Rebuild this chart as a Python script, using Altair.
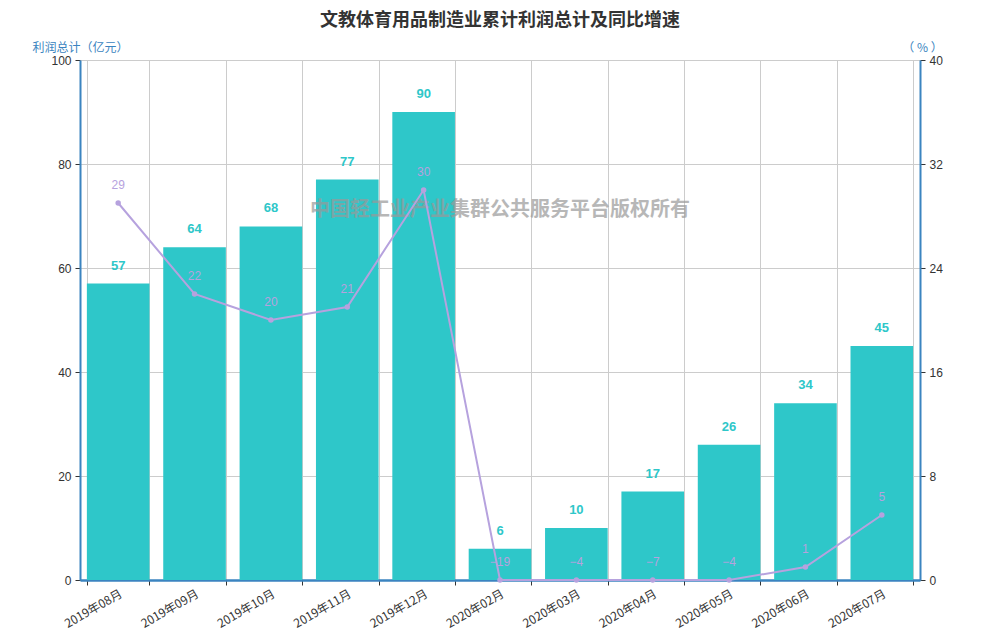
import altair as alt
import pandas as pd

months = ["2019年08月", "2019年09月", "2019年10月", "2019年11月", "2019年12月",
          "2020年02月", "2020年03月", "2020年04月", "2020年05月", "2020年06月", "2020年07月"]
profit = [57, 64, 68, 77, 90, 6, 10, 17, 26, 34, 45]
growth = [29, 22, 20, 21, 30, -19, -4, -7, -4, 1, 5]
left_ticks = [0, 20, 40, 60, 80, 100]
right_ticks = [0, 8, 16, 24, 32, 40]

title_text = "文教体育用品制造业累计利润总计及同比增速"
watermark = "中国轻工业产业集群公共服务平台版权所有"

df = pd.DataFrame({"month": months, "profit": profit, "growth": growth})

FONT = "Noto Sans CJK SC"
BLUE = "#3b84c0"
BAR = "#2ec7c9"
LINE = "#b6a2de"

x = alt.X("month:N", sort=months, title=None,
          scale=alt.Scale(paddingInner=0.18, paddingOuter=0.09),
          axis=alt.Axis(labelAngle=-30, tickBand="extent", domainColor=BLUE, domainWidth=2.5,
                        tickColor="#333", tickSize=5, grid=True, gridColor="#cccccc",
                        labelColor="#333", labelFontSize=12, labelFont=FONT, labelPadding=3))

yl = alt.Y("profit:Q",
           scale=alt.Scale(domain=[0, 100], nice=False),
           axis=alt.Axis(values=left_ticks, grid=True, gridColor="#cccccc", domainColor=BLUE,
                         domainWidth=2, tickColor="#333", tickSize=5, labelColor="#333",
                         labelFontSize=12, labelFont="Liberation Sans", labelPadding=4,
                         title="利润总计（亿元）", titleAngle=0, titleX=-48, titleY=-13,
                         titleAlign="left", titleBaseline="middle", titleColor=BLUE,
                         titleFontWeight="normal", titleFontSize=12, titleFont=FONT))

yr = alt.Y("growth:Q",
           scale=alt.Scale(domain=[0, 40], nice=False, clamp=True),
           axis=alt.Axis(orient="right", values=right_ticks, grid=False, domainColor=BLUE,
                         domainWidth=2, tickColor="#333", tickSize=5, labelColor="#333",
                         labelFontSize=12, labelFont="Liberation Sans", labelPadding=4,
                         title="（ % ）", titleAngle=0, titleX=2, titleY=-13,
                         titleAlign="center", titleBaseline="middle", titleColor=BLUE,
                         titleFontWeight="normal", titleFontSize=12, titleFont=FONT))

base = alt.Chart(df)

bars = base.mark_bar(color=BAR).encode(x=x, y=yl)
bar_text = base.mark_text(dy=-18, color=BAR, fontSize=13, fontWeight="bold",
                          font="Liberation Sans").encode(x=x, y=yl, text="profit:Q")
left = alt.layer(bars, bar_text)

wm = alt.Chart(pd.DataFrame({"t": [watermark]})).mark_text(
    fontSize=20, fontWeight="bold", color="#999999", opacity=0.7, font=FONT
).encode(text="t:N", x=alt.value(420), y=alt.value(150))

line = base.mark_line(color=LINE, strokeWidth=2).encode(x=x, y=yr)
pts = base.mark_circle(color=LINE, size=30, opacity=1).encode(x=x, y=yr)
line_text = base.mark_text(dy=-18, color=LINE, fontSize=12,
                           font="Liberation Sans").encode(x=x, y=yr, text="growth:Q")
right = alt.layer(line, pts, line_text)

chart = alt.layer(left, wm, right).resolve_scale(y="independent").properties(
    width=840, height=520,
    title=alt.TitleParams(title_text, fontSize=18, fontWeight="bold", color="#333",
                          font=FONT, anchor="middle", offset=11),
    autosize=alt.AutoSizeParams(type="none"),
    padding={"left": 72, "top": 52, "right": 72, "bottom": 52},
).configure_view(stroke=None)

chart.save("out.html", embed_options={"renderer": "svg", "actions": False})
